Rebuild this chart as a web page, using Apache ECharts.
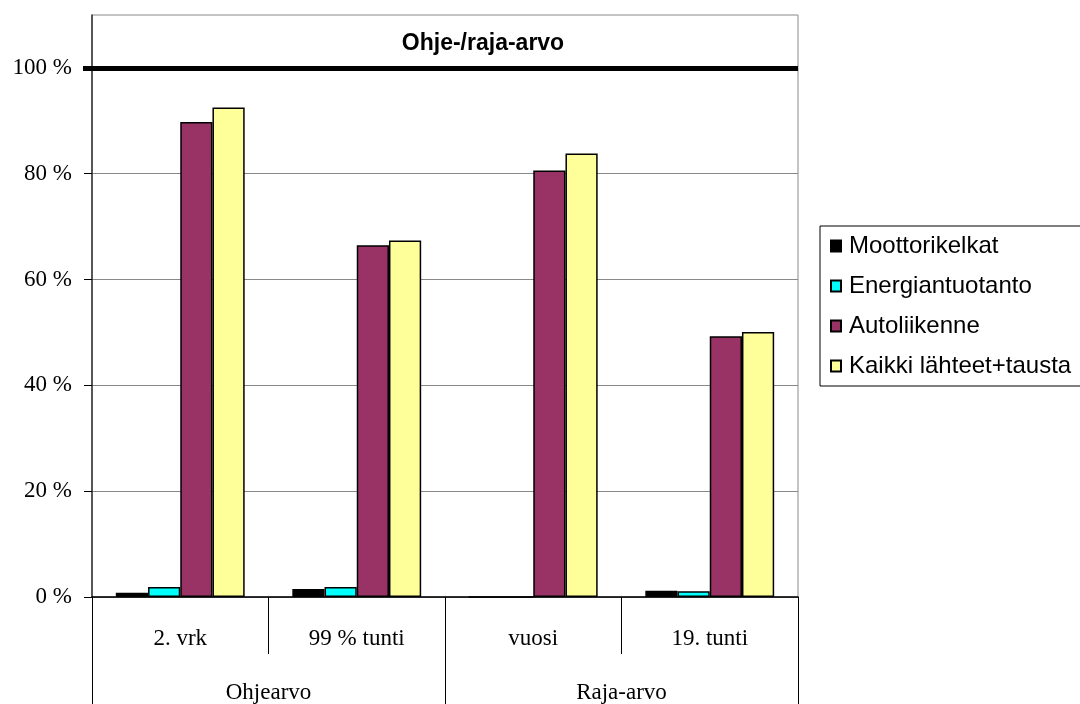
<!DOCTYPE html>
<html>
<head>
<meta charset="utf-8">
<script src="https://cdn.jsdelivr.net/npm/echarts@6/dist/echarts.min.js"></script>
<style>
  html, body { margin: 0; padding: 0; background: #fff; }
  #chart { width: 1080px; height: 704px; }
</style>
</head>
<body>
<div id="chart"></div>
<script>
// Sub-categories (inner axis row) and their groups (outer axis row)
const subCategories = ['2. vrk', '99 % tunti', 'vuosi', '19. tunti'];
const groupCategories = ['Ohjearvo', 'Raja-arvo'];

// Share of the guideline / limit value, in percent
const moottorikelkat   = [0.8, 1.5, 0, 1.2];
const energiantuotanto = [1.9, 1.9, 0, 1.1];
const autoliikenne     = [89.8, 66.5, 80.6, 49.3];
const kaikkiLahteet    = [92.5, 67.4, 83.8, 50.1];

const seriesNames = ['Moottorikelkat', 'Energiantuotanto', 'Autoliikenne', 'Kaikki lähteet+tausta'];
const seriesColors = ['#000000', '#00FFFF', '#993366', '#FFFF99'];
const seriesValues = [moottorikelkat, energiantuotanto, autoliikenne, kaikkiLahteet];

const limitValue = 100;
const yTicks = [0, 20, 40, 60, 80, 100];

const serif = 'Liberation Serif';
const sans = 'Liberation Sans';

const chart = echarts.init(document.getElementById('chart'));

const series = seriesNames.map((name, i) => ({
  name: name,
  type: 'bar',
  xAxisIndex: 0,
  yAxisIndex: 0,
  data: seriesValues[i],
  barGap: '0%',
  barCategoryGap: '27%',
  itemStyle: { color: seriesColors[i], borderColor: '#000', borderWidth: 1.5 },
  emphasis: { disabled: true },
  markLine: i === 0 ? {
    silent: true,
    symbol: 'none',
    label: { show: false },
    lineStyle: { color: '#000', width: 5, type: 'solid' },
    data: [{ yAxis: limitValue }]
  } : undefined
}));

chart.setOption({
  animation: false,
  title: {
    text: 'Ohje-/raja-arvo',
    left: 478,
    top: 27,
    textAlign: 'center',
    textStyle: { fontFamily: sans, fontWeight: 'bold', fontSize: 23, color: '#000' }
  },
  legend: {
    orient: 'vertical',
    left: 820,
    top: 226,
    padding: [8, 60, 8, 10],
    itemGap: 16,
    itemWidth: 10,
    itemHeight: 11,
    icon: 'rect',
    borderColor: '#000',
    borderWidth: 1,
    textStyle: { fontFamily: sans, fontSize: 24, color: '#000', padding: [0, 0, 0, 3] },
    data: seriesNames
  },
  grid: {
    left: 92,
    right: 282,
    top: 15,
    bottom: 106,
    show: true,
    borderColor: '#888',
    borderWidth: 1,
    backgroundColor: 'transparent'
  },
  xAxis: [
    {
      type: 'category',
      data: subCategories,
      position: 'bottom',
      axisLine: { show: true, lineStyle: { color: '#000', width: 1.5 } },
      axisTick: { show: true, length: 57, lineStyle: { color: '#000', width: 1 } },
      axisLabel: { fontFamily: serif, fontSize: 23, color: '#000', margin: 30 },
      splitLine: { show: false }
    },
    {
      type: 'category',
      data: groupCategories,
      position: 'bottom',
      gridIndex: 0,
      axisLine: { show: false },
      axisTick: { show: true, length: 110, lineStyle: { color: '#000', width: 1 } },
      axisLabel: { fontFamily: serif, fontSize: 23, color: '#000', margin: 84 },
      splitLine: { show: false }
    }
  ],
  yAxis: [
    {
      type: 'value',
      min: 0,
      max: 110,
      interval: 20,
      axisLine: { show: true, lineStyle: { color: '#333', width: 1.5 } },
      axisTick: { show: true, length: 8, customValues: yTicks, lineStyle: { color: '#000' } },
      axisLabel: {
        fontFamily: serif,
        fontSize: 23,
        color: '#000',
        margin: 20,
        customValues: yTicks,
        formatter: v => v + ' %'
      },
      splitLine: { show: true, lineStyle: { color: '#888', width: 1 } }
    },
    {
      // heavy tick carrying the limit line out past the axis
      type: 'value',
      position: 'left',
      min: 0,
      max: 110,
      interval: 20,
      axisLine: { show: false },
      axisTick: { show: true, length: 9, customValues: [limitValue], lineStyle: { color: '#000', width: 5 } },
      axisLabel: { show: false },
      splitLine: { show: false }
    }
  ],
  series: series
});
</script>
</body>
</html>
